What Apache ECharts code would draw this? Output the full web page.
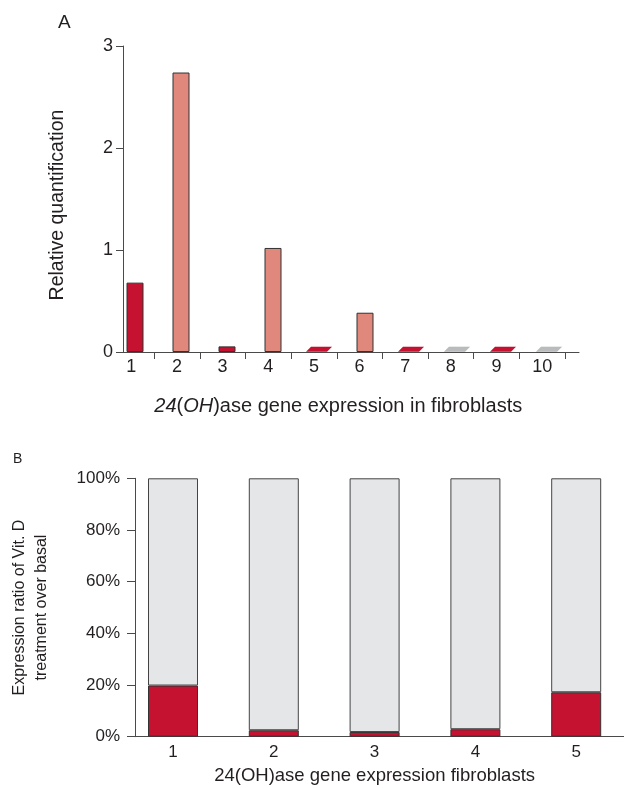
<!DOCTYPE html>
<html><head><meta charset="utf-8">
<script src="https://cdn.jsdelivr.net/npm/echarts@6/dist/echarts.min.js"></script>
<style>html,body{margin:0;padding:0;background:#fff}#c{width:624px;height:788px}</style>
</head><body><div id="c"></div>
<script>
// ---- Panel A data ----
const fibroblastsA = ['1','2','3','4','5','6','7','8','9','10'];
const quantRed    = [0.68, '-', 0.055, '-', 0.02, '-', 0.02, '-', 0.02, '-'];
const quantSalmon = ['-', 2.74, '-', 1.02, '-', 0.385, '-', '-', '-', '-'];
const quantGrey   = ['-', '-', '-', '-', '-', '-', '-', 0.02, '-', 0.02];
const yTicksA = [0, 1, 2, 3];
// ---- Panel B data ----
const fibroblastsB = ['1','2','3','4','5'];
const ratioVitD = [19.8, 2.5, 1.8, 2.9, 17.2];
const ratioRest = [80.2, 97.5, 98.2, 97.1, 82.8];
const yTicksB = [0, 20, 40, 60, 80, 100];

const FONT = 'Liberation Sans, Arial, sans-serif';
const TXT = '#231f20';
const LINE = '#4a4a4a';
const RED = '#c41230', SALMON = '#e0887c', GREY = '#b9bbbd', LIGHT = '#e5e6e8';
const FLAT = 0.03;
const isFlat = v => v !== '-' && v < FLAT;
const barsOf = arr => arr.map(v => (v !== '-' && v >= FLAT) ? v : '-');
const flatsOf = arr => arr.map(v => isFlat(v) ? v : '-');

const gridA = {top: 46, height: 306};
const gridB = {top: 478.3, height: 258.4};
const hiddenY = (gi, min, max) => ({type:'value', gridIndex: gi, min, max, show:false});
const flatSymbol = 'path://M5,0 L26,0 L21,5 L0,5 Z';

const bar = (data, color, xi, yi) => ({
  type:'bar', xAxisIndex: xi, yAxisIndex: yi, data, barWidth: 17, barGap: '-100%',
  itemStyle:{color, borderColor: '#333', borderWidth: 1}, silent: true
});
const flat = (data, color, xi, yi) => ({
  type:'pictorialBar', xAxisIndex: xi, yAxisIndex: yi, data,
  symbol: flatSymbol, symbolSize: [26, 5], symbolPosition: 'start',
  itemStyle:{color, borderColor:'#333', borderWidth: 1}, silent: true
});

const option = {
  backgroundColor: '#fff',
  animation: false,
  title: [
    {text:'A', left: 53, top: 8, textStyle:{fontFamily: FONT, fontSize: 19, fontWeight:'normal', color: TXT}},
    {text:'B', left: 8, top: 447, textStyle:{fontFamily: FONT, fontSize: 14, fontWeight:'normal', color: TXT}}
  ],
  grid: [
    {left: 108.5, width: 456.5, ...gridA, outerBoundsMode:'none'},  // 0: A category labels
    {left: 112, width: 460, ...gridA, outerBoundsMode:'none'},      // 1: A bars
    {left: 123, width: 456, ...gridA, outerBoundsMode:'none'},      // 2: A frame
    {left: 122.6, width: 504, ...gridB, outerBoundsMode:'none'},    // 3: B bars
    {left: 135, width: 489, ...gridB, outerBoundsMode:'none'}       // 4: B frame
  ],
  xAxis: [
    {type:'category', gridIndex: 0, data: fibroblastsA, boundaryGap: true,
      axisLine:{show:false},
      axisTick:{show:true, length: 7, interval: (i) => i !== 0, lineStyle:{color: LINE}},
      axisLabel:{fontFamily: FONT, fontSize: 18, color: TXT, margin: 6},
      name: '{i|24}({i|OH})ase gene expression in fibroblasts',
      nameLocation:'middle', nameGap: 44,
      nameTextStyle:{fontFamily: FONT, fontSize: 20, color: TXT, padding:[0,0,0,3],
        rich:{i:{fontStyle:'italic', fontFamily: FONT, fontSize: 20, color: TXT}}}},
    {type:'category', gridIndex: 1, data: fibroblastsA, show:false},
    {type:'value', gridIndex: 2, min: 0, max: 1, axisLine:{show:true, onZero:false, lineStyle:{color: LINE}},
      axisTick:{show:false}, axisLabel:{show:false}, splitLine:{show:false}},
    {type:'category', gridIndex: 3, data: fibroblastsB, boundaryGap: true,
      axisLine:{show:false}, axisTick:{show:false},
      axisLabel:{fontFamily: FONT, fontSize: 17, color: TXT, margin: 7},
      name: '24(OH)ase gene expression fibroblasts',
      nameLocation:'middle', nameGap: 30,
      nameTextStyle:{fontFamily: FONT, fontSize: 18.5, color: TXT}},
    {type:'value', gridIndex: 4, min: 0, max: 1, axisLine:{show:true, onZero:false, lineStyle:{color: LINE}},
      axisTick:{show:false}, axisLabel:{show:false}, splitLine:{show:false}}
  ],
  yAxis: [
    hiddenY(0, yTicksA[0], yTicksA[yTicksA.length-1]),
    hiddenY(1, yTicksA[0], yTicksA[yTicksA.length-1]),
    {type:'value', gridIndex: 2, min: yTicksA[0], max: yTicksA[yTicksA.length-1], interval: 1,
      axisLine:{show:true, lineStyle:{color: LINE}},
      axisTick:{show:true, length: 7, lineStyle:{color: LINE}},
      axisLabel:{fontFamily: FONT, fontSize: 18, color: TXT, margin: 10},
      splitLine:{show:false},
      name:'Relative quantification', nameLocation:'middle', nameGap: 55,
      nameTextStyle:{fontFamily: FONT, fontSize: 19.5, color: TXT, padding:[0,12,0,0]}},
    hiddenY(3, yTicksB[0], yTicksB[yTicksB.length-1]),
    {type:'value', gridIndex: 4, min: yTicksB[0], max: yTicksB[yTicksB.length-1], interval: 20,
      axisLine:{show:true, lineStyle:{color: LINE}},
      axisTick:{show:true, length: 8, lineStyle:{color: LINE}},
      axisLabel:{fontFamily: FONT, fontSize: 17, color: TXT, margin: 15, formatter:'{value}%'},
      splitLine:{show:false},
      name:'Expression ratio of Vit. D\ntreatment over basal', nameLocation:'middle', nameGap: 82,
      nameTextStyle:{fontFamily: FONT, fontSize: 16, color: TXT, lineHeight: 22, align:'center'}}
  ],
  series: [
    bar(barsOf(quantRed), RED, 1, 1),
    bar(barsOf(quantSalmon), SALMON, 1, 1),
    flat(flatsOf(quantRed), RED, 1, 1),
    flat(flatsOf(quantGrey), GREY, 1, 1),
    {type:'bar', xAxisIndex: 3, yAxisIndex: 3, stack:'b', data: ratioVitD, barWidth: 50,
      itemStyle:{color: RED, borderColor:'#333', borderWidth: 1}, silent:true},
    {type:'bar', xAxisIndex: 3, yAxisIndex: 3, stack:'b', data: ratioRest, barWidth: 50,
      itemStyle:{color: LIGHT, borderColor:'#444', borderWidth: 1}, silent:true}
  ]
};
echarts.init(document.getElementById('c'), null, {renderer:'canvas'}).setOption(option);
</script></body></html>
